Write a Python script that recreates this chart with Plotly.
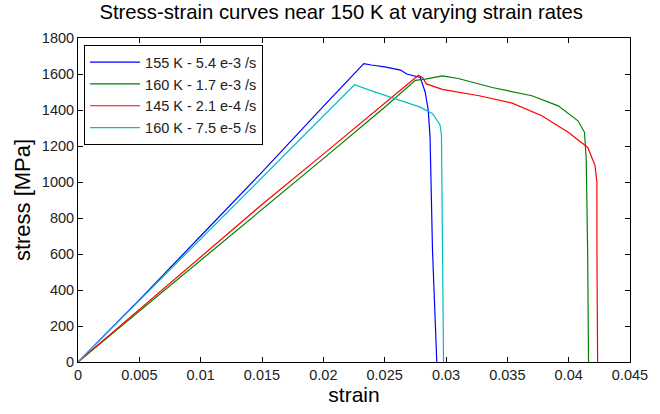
import plotly.graph_objects as go

# ---- data ----
blue_strain = [0, 0.0050, 0.0100, 0.0150, 0.0200, 0.0233, 0.0239, 0.0250, 0.0263, 0.0268, 0.0279, 0.0283, 0.02855, 0.0287, 0.0289, 0.0292, 0.02925]
blue_stress = [0, 345, 700, 1055, 1420, 1658, 1650, 1640, 1622, 1600, 1581, 1500, 1400, 1250, 620, 70, 0]

green_strain = [0, 0.005, 0.010, 0.015, 0.020, 0.025, 0.0275, 0.0283, 0.0292, 0.0297, 0.0310, 0.03377, 0.0370, 0.03915, 0.04076, 0.04129, 0.04143, 0.04155, 0.04162]
green_stress = [0, 282, 565, 845, 1130, 1415, 1565, 1572, 1586, 1590, 1575, 1525, 1479, 1423, 1340, 1276, 1128, 600, 0]

red_strain = [0, 0.005, 0.010, 0.015, 0.020, 0.025, 0.0270, 0.02775, 0.0281, 0.0284, 0.0297, 0.0327, 0.03539, 0.03781, 0.03996, 0.04156, 0.04215, 0.0423, 0.04231, 0.04236]
red_stress = [0, 292, 585, 875, 1155, 1440, 1555, 1593, 1580, 1545, 1515, 1479, 1438, 1368, 1276, 1192, 1091, 1000, 550, 0]

cyan_strain = [0, 0.005, 0.010, 0.015, 0.020, 0.02254, 0.0240, 0.0247, 0.0263, 0.0279, 0.0289, 0.0295, 0.02963, 0.02968, 0.02972, 0.0298]
cyan_stress = [0, 342, 683, 1025, 1366, 1540, 1505, 1489, 1452, 1416, 1379, 1320, 1260, 800, 300, 0]

series_names = ["155 K - 5.4 e-3 /s", "160 K - 1.7 e-3 /s", "145 K - 2.1 e-4 /s", "160 K - 7.5 e-5 /s"]
series_colors = ["#0000FF", "#008000", "#FF0000", "#00BFBF"]

x_tickvals = [0, 0.005, 0.01, 0.015, 0.02, 0.025, 0.03, 0.035, 0.04, 0.045]
x_ticktext = ["0", "0.005", "0.01", "0.015", "0.02", "0.025", "0.03", "0.035", "0.04", "0.045"]
y_tickvals = [0, 200, 400, 600, 800, 1000, 1200, 1400, 1600, 1800]

FONT = "Liberation Sans, Arial, sans-serif"

fig = go.Figure()
for xs, ys, name, col in zip(
    [blue_strain, green_strain, red_strain, cyan_strain],
    [blue_stress, green_stress, red_stress, cyan_stress],
    series_names, series_colors):
    fig.add_trace(go.Scatter(x=xs, y=ys, mode="lines", name=name,
                             line=dict(color=col, width=1.2)))

axis_common = dict(showgrid=False, zeroline=False, showline=True, linecolor="black",
                   linewidth=1, mirror="ticks", ticks="inside", ticklen=5,
                   tickcolor="black", tickfont=dict(family=FONT, size=14.5, color="#222"))

fig.update_xaxes(range=[0, 0.045], tickvals=x_tickvals, ticktext=x_ticktext,
                 title=dict(text="strain", font=dict(family=FONT, size=21, color="black"), standoff=4),
                 **axis_common)
fig.update_yaxes(range=[0, 1800], tickvals=y_tickvals,
                 title=dict(text="stress [MPa]", font=dict(family=FONT, size=22, color="black"), standoff=5),
                 **axis_common)

fig.update_layout(
    width=660, height=414,
    margin=dict(l=78, r=20, t=38, b=48),
    paper_bgcolor="white", plot_bgcolor="white",
    title=dict(text="Stress-strain curves near 150 K at varying strain rates",
               font=dict(family=FONT, size=20.3, color="black"),
               x=0.517, xanchor="center", xref="container", y=0.988, yanchor="top"),
    legend=dict(x=0.011, y=0.978, xanchor="left", yanchor="top",
                bordercolor="black", borderwidth=1, bgcolor="white",
                font=dict(family=FONT, size=14.5, color="#222"),
                tracegroupgap=0, itemwidth=50),
    showlegend=True,
)

fig.write_html("out.html")
